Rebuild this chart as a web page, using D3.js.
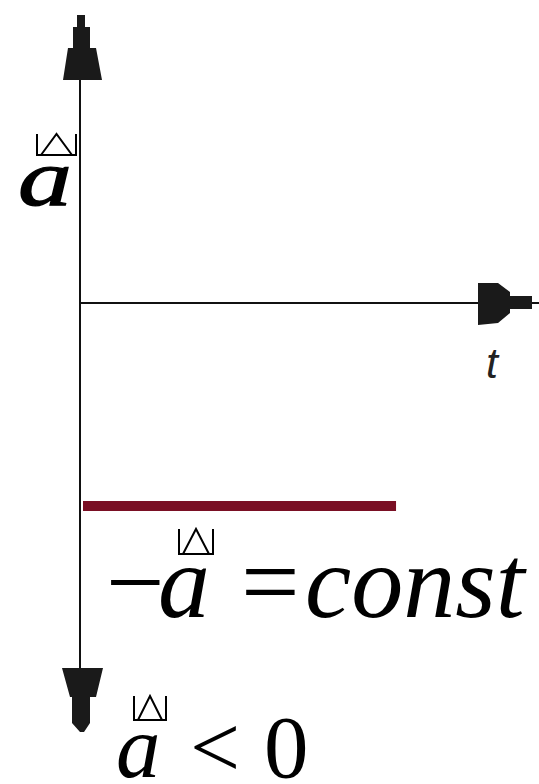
<!DOCTYPE html>
<html>
<head>
<meta charset="utf-8">
<script src="https://cdn.jsdelivr.net/npm/d3@7"></script>
<style>
  html, body { margin: 0; padding: 0; background: #fff; }
  svg { display: block; }
</style>
</head>
<body>
<svg id="chart" width="539" height="784"></svg>
<script>
// data: acceleration is a negative constant over time
const tValues = [0, 0.682];
const aValues = [-1, -1];
const axisLabels = { y: "a", x: "t" };
const equation = ["\u2212", "a", "=", "const"];
const inequality = ["a", "<", "0"];

const svg = d3.select("#chart"),
    width = +svg.attr("width"),
    height = +svg.attr("height");

const x = d3.scaleLinear().domain([0, 1]).range([80, 539]);
const y = d3.scaleLinear().domain([-1, 0]).range([506, 303]);

const x0 = x(0), y0 = y(0);

// axes
svg.append("line")
    .attr("x1", x0).attr("x2", x0)
    .attr("y1", 15).attr("y2", 730)
    .attr("stroke", "#111").attr("stroke-width", 2);

svg.append("line")
    .attr("x1", x0).attr("x2", width)
    .attr("y1", y0).attr("y2", y0)
    .attr("stroke", "#111").attr("stroke-width", 2);

// arrow heads (stepped, like the scanned original)
const arrowUp = [[-3,15],[5,15],[5,27],[10,27],[10,48],[16,48],[22,80],[-17,80],[-12,48],[-7,48],[-7,27],[-3,27]];
const arrowDown = [[-18,668],[23,668],[16,697],[10,697],[10,723],[4,732],[0,732],[-8,723],[-8,697],[-10,697]];
const arrowRight = [[478,-20],[498,-20],[510,-11],[510,-7],[532,-7],[532,6],[510,6],[510,10],[498,20],[478,22]];

const line = d3.line();
svg.append("path")
    .attr("d", line(arrowUp.map(p => [x0 + p[0], p[1]])) + "Z")
    .attr("fill", "#1a1a1a");
svg.append("path")
    .attr("d", line(arrowDown.map(p => [x0 + p[0], p[1]])) + "Z")
    .attr("fill", "#1a1a1a");
svg.append("path")
    .attr("d", line(arrowRight.map(p => [p[0], y0 + p[1]])) + "Z")
    .attr("fill", "#1a1a1a");

// the constant acceleration line
svg.append("path")
    .datum(tValues.map((t, i) => [t, aValues[i]]))
    .attr("d", d3.line().x(d => x(d[0]) + 3).y(d => y(d[1])))
    .attr("stroke", "#7a0f24")
    .attr("stroke-width", 10)
    .attr("fill", "none");

// missing-glyph boxes for the vector arrows
function vecBox(bx, by, w, h) {
    svg.append("path")
        .attr("d", `M${bx},${by} V${by + h} H${bx + w} V${by} M${bx + 4},${by + h} L${bx + w / 2},${by} L${bx + w - 4},${by + h}`)
        .attr("fill", "none")
        .attr("stroke", "#000")
        .attr("stroke-width", 2);
}

const serif = "'Liberation Serif', 'Times New Roman', serif";

// y label
svg.append("text")
    .attr("x", 18).attr("y", 205)
    .attr("font-family", serif)
    .attr("font-style", "italic")
    .attr("font-size", 80)
    .attr("stroke", "#000")
    .attr("stroke-width", 1.2)
    .attr("textLength", 54)
    .attr("lengthAdjust", "spacingAndGlyphs")
    .text(axisLabels.y);
vecBox(37, 134, 39, 21);

// x label
svg.append("text")
    .attr("x", 486).attr("y", 378)
    .attr("font-family", "'Liberation Sans', Arial, sans-serif")
    .attr("font-style", "italic")
    .attr("font-size", 43)
    .attr("fill", "#222")
    .text(axisLabels.x);

// equation under the line
const eq = svg.append("text")
    .attr("y", 617)
    .attr("font-family", serif)
    .attr("font-size", 104);
eq.append("tspan").attr("x", 106).text(equation[0]);
eq.append("tspan").attr("x", 158).attr("font-style", "italic").text(equation[1]);
eq.append("tspan").attr("x", 241).text(equation[2]);
eq.append("tspan").attr("x", 305).attr("font-style", "italic").text(equation[3]);
vecBox(179, 529, 34, 25);

// inequality at the bottom
const ineq = svg.append("text")
    .attr("y", 777)
    .attr("font-family", serif)
    .attr("font-size", 89);
ineq.append("tspan").attr("x", 116).attr("font-style", "italic").text(inequality[0]);
ineq.append("tspan").attr("x", 190).text(inequality[1]);
ineq.append("tspan").attr("x", 264).text(inequality[2]);
vecBox(134, 696, 32, 24);
</script>
</body>
</html>
